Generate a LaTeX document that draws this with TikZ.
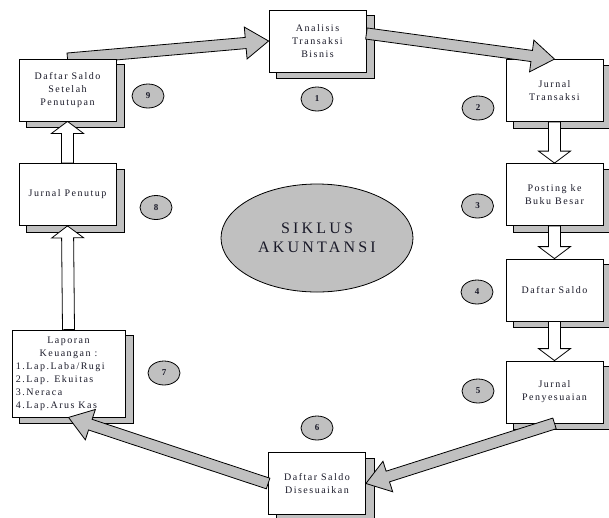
\documentclass[tikz,border=0pt]{standalone}
\usepackage{fontspec}
\setmainfont{Liberation Serif}
\newfontfamily\boxfont[LetterSpace=15]{Liberation Serif}
\newfontfamily\titlefont[LetterSpace=20]{Liberation Serif}
\usetikzlibrary{shapes.geometric,calc}

\definecolor{shadegray}{RGB}{192,192,192}
\definecolor{inkc}{RGB}{25,25,40}

\pgfdeclarelayer{background}
\pgfsetlayers{background,main}

% block arrow: style, from, to, half shaft, half head, head length
\newcommand{\blockarrow}[6]{%
  \path let \p1=(#2), \p2=(#3),
    \n1={atan2(\y2-\y1,\x2-\x1)}, \n2={veclen(\x2-\x1,\y2-\y1)}
    in \pgfextra{\xdef\arrang{\n1}\xdef\arrlen{\n2}};
  \begin{scope}[shift={(#2)}, rotate=\arrang]
    \draw[#1] (0pt,#4) -- ({\arrlen-#6},#4) -- ({\arrlen-#6},#5)
      -- ({\arrlen+0pt},0pt) -- ({\arrlen-#6},-#5) -- ({\arrlen-#6},-#4)
      -- (0pt,-#4) -- cycle;
  \end{scope}}
\newcommand{\fatarrow}[2]{\blockarrow{fatarrow}{#1}{#2}{5.6pt}{16pt}{23pt}}
\newcommand{\hollowarrow}[2]{\blockarrow{hollowarrow}{#1}{#2}{6pt}{16pt}{12pt}}

\tikzset{
  stagebox/.style={draw, line width=0.8pt, fill=white, minimum width=97pt,
    minimum height=62pt, inner sep=2pt, align=center, text=inkc,
    font=\boxfont\fontsize{10}{13}\selectfont},
  numoval/.style={ellipse, draw, line width=0.8pt, fill=shadegray,
    minimum width=32pt, minimum height=24pt, inner sep=0pt, text=inkc,
    font=\fontsize{9}{9}\selectfont\bfseries},
  shadowbox/.style={draw, line width=0.8pt, fill=shadegray},
  fatarrow/.style={draw, line width=0.8pt, fill=shadegray, line join=miter},
  hollowarrow/.style={draw, line width=0.8pt, fill=white},
}

\begin{document}
\begin{tikzpicture}[x=1pt, y=-1pt]

\useasboundingbox (0,0) rectangle (609,517);


% Center
\path 
(317,238) node[ellipse, draw, line width=0.8pt, fill=shadegray, minimum width=192pt,
  minimum height=108pt, inner sep=0pt, align=center, text=inkc,
  font=\titlefont\fontsize{16}{19.5}\selectfont] (siklus) {SIKLUS\\AKUNTANSI};



% Top and right column
\path 
(317.5,41) node[stagebox] (analisis) {Analisis\\Transaksi\\Bisnis};

\path 
(554.5,90.5) node[stagebox] (jurnal) {Jurnal\\Transaksi};

\path 
(554.5,194.5) node[stagebox] (posting) {Posting ke\\Buku Besar};

\path 
(554.5,290) node[stagebox] (saldo) {Daftar Saldo};

\path 
(554.5,392) node[stagebox] (penyesuaian) {Jurnal\\Penyesuaian};



% Bottom and left column
\path 
(317,483.5) node[stagebox] (disesuaikan) {Daftar Saldo\\Disesuaikan};

\path 
(68.5,373.5) node[stagebox, minimum width=113pt, minimum height=87pt] (laporan)
  {Laporan\\Keuangan :\\\makebox[105pt][l]{1.Lap.Laba/Rugi}\\\makebox[105pt][l]{2.Lap. Ekuitas}\\
   \makebox[105pt][l]{3.Neraca}\\\makebox[105pt][l]{4.Lap.Arus Kas}};

\path 
(67.5,194.5) node[stagebox] (penutup) {Jurnal Penutup};

\path 
(67.5,90) node[stagebox] (setelah) {Daftar Saldo\\Setelah\\Penutupan};



% Step numbers
\path 
(317,99) node[numoval] (n1) {1}
(478,108) node[numoval] (n2) {2}
(477.5,206) node[numoval] (n3) {3}
(477,292) node[numoval] (n4) {4}
(478,391) node[numoval] (n5) {5}
(317,428) node[numoval] (n6) {6}
(164,373) node[numoval] (n7) {7}
(156,207.5) node[numoval] (n8) {8}
(148,96) node[numoval] (n9) {9};



% Shadows and arrows behind the boxes
\begin{pgfonlayer}{background}
\foreach \b in {analisis,jurnal,posting,saldo,penyesuaian,disesuaikan,laporan,penutup,setelah}
  \draw[shadowbox] ([xshift=8pt,yshift=-6pt]\b.south west) rectangle ([xshift=8pt,yshift=-6pt]\b.north east);

\fatarrow{setelah.north}{analisis.west}

\hollowarrow{jurnal.south}{posting.north}
\hollowarrow{posting.south}{saldo.north}
\hollowarrow{saldo.south}{penyesuaian.north}
\hollowarrow{laporan.north}{penutup.south}
\hollowarrow{penutup.north}{setelah.south}
\end{pgfonlayer}



% Arrows over the boxes
\fatarrow{[yshift=7.5pt]analisis.east}{jurnal.north}
\fatarrow{penyesuaian.south}{disesuaikan.east}
\fatarrow{disesuaikan.west}{laporan.south}


\end{tikzpicture}
\end{document}
